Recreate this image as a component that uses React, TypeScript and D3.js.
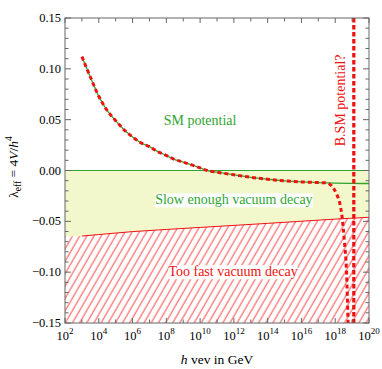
import React, { useEffect, useRef } from 'react'
import * as d3 from 'd3'

// SM running quartic (log10 of h in GeV vs lambda_eff)
const smLog = [3,3.5,4,4.5,5,5.5,6,6.5,7,7.5,8,8.5,9,9.5,10,10.5,11,12,13,14,15,16,17,18,19,20]
const smLam = [0.112,0.092,0.073,0.059,0.049,0.040,0.033,0.0272,0.0235,0.0185,0.0148,0.0108,0.0083,0.0055,0.0025,-0.0003,-0.0017,-0.0042,-0.0067,-0.0086,-0.0102,-0.0112,-0.0119,-0.0124,-0.0127,-0.0128]
// BSM tail that leaves the SM curve near the Planck scale
const bsmLog = [17.5,17.8,18.09,18.28,18.4,18.55,18.67,18.76,18.82]
const bsmLam = [-0.0122,-0.0154,-0.0235,-0.033,-0.0448,-0.071,-0.1,-0.15,-0.19]
const wallLog = 19.1
// metastability bound
const bLog = [2,3,4,6,8,10,12,14,16,18,20]
const bLam = [-0.065,-0.0645,-0.063,-0.0601,-0.058,-0.056,-0.054,-0.052,-0.0499,-0.0478,-0.046]

const yMajor = [-0.15,-0.1,-0.05,0,0.05,0.1,0.15]
const yLabels = ['−0.15','−0.10','−0.05','0.00','0.05','0.10','0.15']
const xMajor = [2,4,6,8,10,12,14,16,18,20]

export default function App(){
  const svgRef = useRef<SVGSVGElement>(null)

  useEffect(()=>{
    const width=382, height=369, m={top:18,right:13,bottom:45,left:65}
    const svg=d3.select(svgRef.current).attr('width',width).attr('height',height)
    svg.selectAll('*').remove()
    const x=d3.scaleLog().domain([1e2,1e20]).range([m.left,width-m.right])
    const y=d3.scaleLinear().domain([-0.15,0.15]).range([height-m.bottom-1,m.top])
    const X=(e:number)=>x(Math.pow(10,e))
    const font='"Liberation Serif", "Times New Roman", serif'
    const green='#2fa52f', red='#f01010'

    const defs=svg.append('defs')
    defs.append('clipPath').attr('id','plot').append('rect')
      .attr('x',m.left).attr('y',m.top).attr('width',width-m.right-m.left).attr('height',y(-0.15)-m.top)
    const pat=defs.append('pattern').attr('id','hatch').attr('patternUnits','userSpaceOnUse')
      .attr('width',6.2).attr('height',6).attr('patternTransform','rotate(30)')
    pat.append('line').attr('x1',1).attr('y1',0).attr('x2',1).attr('y2',6).attr('stroke','#ff4a4a').attr('stroke-width',1)

    const g=svg.append('g').attr('clip-path','url(#plot)')
    const bound=bLog.map((e,i)=>({e,l:bLam[i]}))

    // slow decay band (yellow) between 0 and bound
    g.append('path').datum(bound).attr('fill','#f2f8cc')
      .attr('d',d3.area<any>().x(d=>X(d.e)).y0(y(0)).y1(d=>y(d.l)))
    // too fast band (hatched)
    g.append('path').datum(bound).attr('fill','url(#hatch)')
      .attr('d',d3.area<any>().x(d=>X(d.e)).y0(y(-0.15)).y1(d=>y(d.l)))
    g.append('path').datum(bound.filter(d=>d.e>=3)).attr('fill','none').attr('stroke',red).attr('stroke-width',1)
      .attr('d',d3.line<any>().x(d=>X(d.e)).y(d=>y(d.l)))

    // zero line
    g.append('line').attr('x1',m.left).attr('x2',width-m.right).attr('y1',y(0)).attr('y2',y(0))
      .attr('stroke',green).attr('stroke-width',1.2)

    const line=d3.line<any>().x(d=>X(d.e)).y(d=>y(d.l)).curve(d3.curveMonotoneX)
    const sm=smLog.map((e,i)=>({e,l:smLam[i]}))
    const bsm=sm.filter(d=>d.e<=17).concat(bsmLog.map((e,i)=>({e,l:bsmLam[i]})))
    g.append('path').datum(sm).attr('fill','none').attr('stroke',green).attr('stroke-width',1.3).attr('d',line)
    g.append('path').datum(bsm).attr('fill','none').attr('stroke',red).attr('stroke-width',3)
      .attr('stroke-dasharray','4,3').attr('d',line)
    g.append('line').attr('x1',X(wallLog)).attr('x2',X(wallLog)).attr('y1',m.top).attr('y2',y(-0.15))
      .attr('stroke',red).attr('stroke-width',3.2).attr('stroke-dasharray','4.5,2.5')

    // labels
    const lab=(e:number,l:number,txt:string,col:string,bg:boolean)=>{
      const t=svg.append('text').attr('x',X(e)).attr('y',y(l)).attr('text-anchor','middle')
        .attr('font-family',font).attr('font-size',14).attr('fill',col).text(txt)
      if(bg){
        const b=(t.node() as SVGTextElement).getBBox()
        svg.insert('rect',()=>t.node()).attr('x',b.x).attr('y',b.y+1).attr('width',b.width).attr('height',b.height-1).attr('fill','#fff')
      }
    }
    lab(10,0.045,'SM potential',green,false)
    lab(12,-0.0333,'Slow enough vacuum decay',green,true)
    lab(11.95,-0.104,'Too fast vacuum decay',red,true)
    svg.append('text').attr('transform',`translate(${X(18.3)+5},${y(0.069)}) rotate(-90)`)
      .attr('text-anchor','middle').attr('font-family',font).attr('font-size',14).attr('fill',red).text('B.SM potential?')

    // frame and ticks
    const ax=svg.append('g').attr('stroke','#666').attr('stroke-width',1)
    ax.append('rect').attr('x',m.left).attr('y',m.top).attr('width',width-m.right-m.left).attr('height',y(-0.15)-m.top).attr('fill','none')
    d3.range(-15,16).forEach(k=>{
      const v=k/100, major=k%5===0, len=major?6:3.5
      ax.append('line').attr('x1',m.left).attr('x2',m.left+len).attr('y1',y(v)).attr('y2',y(v))
      ax.append('line').attr('x1',width-m.right).attr('x2',width-m.right-len).attr('y1',y(v)).attr('y2',y(v))
    })
    d3.range(2,21).forEach(e=>{
      const len=e%2===0?5:3.5
      ax.append('line').attr('x1',X(e)).attr('x2',X(e)).attr('y1',y(-0.15)).attr('y2',y(-0.15)-len)
      ax.append('line').attr('x1',X(e)).attr('x2',X(e)).attr('y1',m.top).attr('y2',m.top+len)
    })
    yMajor.forEach((v,i)=>{
      svg.append('text').attr('x',m.left-4).attr('y',y(v)+4).attr('text-anchor','end')
        .attr('font-family',font).attr('font-size',12.5).text(yLabels[i])
    })
    xMajor.forEach(e=>{
      const t=svg.append('text').attr('x',X(e)).attr('y',y(-0.15)+17).attr('text-anchor','middle')
        .attr('font-family',font).attr('font-size',12.5)
      t.append('tspan').text('10')
      t.append('tspan').attr('dy',-6).attr('font-size',9).text(e)
    })

    // axis titles
    const xt=svg.append('text').attr('x',217).attr('y',364).attr('text-anchor','middle')
      .attr('font-family',font).attr('font-size',13.5)
    xt.append('tspan').attr('font-style','italic').text('h')
    xt.append('tspan').text(' vev in GeV')
    const yt=svg.append('text').attr('transform',`translate(18,167) rotate(-90)`).attr('text-anchor','middle')
      .attr('font-family',font).attr('font-size',13.5)
    yt.append('tspan').text('λ')
    yt.append('tspan').attr('dy',3).attr('font-size',9.5).text('eff')
    yt.append('tspan').attr('dy',-3).text(' = 4')
    yt.append('tspan').attr('font-style','italic').text('V')
    yt.append('tspan').text('/')
    yt.append('tspan').attr('font-style','italic').text('h')
    yt.append('tspan').attr('dy',-6).attr('font-size',9.5).text('4')
  },[])

  return (<div style={{position:'absolute',left:0,top:0}}>
    <svg ref={svgRef} style={{display:'block'}}></svg>
  </div>)
}
